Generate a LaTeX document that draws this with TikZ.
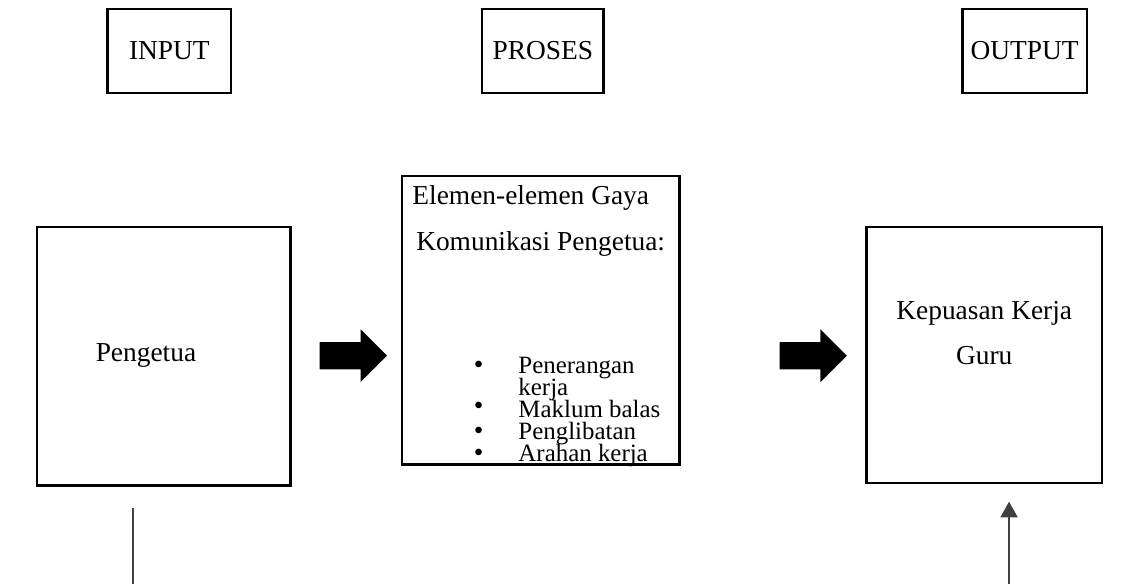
\documentclass[tikz,border=0pt]{standalone}
\usepackage{fontspec}
\setmainfont{Liberation Serif}
\usetikzlibrary{arrows.meta,positioning,shapes.arrows}
\tikzset{
  head/.style={rectangle, draw=black, line width=1pt, minimum width=#1, minimum height=1.19cm,
               inner sep=0pt, font=\fontsize{11}{13}\selectfont},
  head/.default={1.74cm},
  frame/.style={rectangle, draw=black, line width=1pt, inner sep=0pt},
  txt/.style={inner sep=0pt, font=\fontsize{11}{13}\selectfont},
  item/.style={inner sep=0pt, font=\fontsize{10}{12}\selectfont, anchor=base west},
  dot/.style={item, label={[inner sep=0pt, label distance=0.48cm, font=\fontsize{11}{11}\selectfont]left:\textbullet}},
  blk/.style={single arrow, fill=black, draw=none, minimum height=0.95cm, inner xsep=0pt,
              inner ysep=0.185cm, single arrow head extend=0.18cm},
  wire/.style={line width=0.6pt, black!75},
}
\begin{document}
\begin{tikzpicture}[x=1cm, y=1cm]
\useasboundingbox (0,0) rectangle (16.06,8.24);
% top labels
\node[head] (input) at (2.39,7.52) {INPUT};
\node[head=1.71cm] (proses) at (7.66,7.52) {PROSES};
\node[head=1.76cm] (output) at (14.46,7.52) {OUTPUT};
% main boxes
\node[frame, minimum width=3.58cm, minimum height=3.65cm] (pengetua) at (2.31,3.21) {};
\node[frame, minimum width=3.92cm, minimum height=4.07cm] (gaya) at (7.63,3.72) {};
\node[frame, minimum width=3.33cm, minimum height=3.61cm] (kepuasan) at (13.89,3.23) {};
\node[txt] (pengetuaT) at (2.06,3.23) {Pengetua};
\node[txt, anchor=base] (gayaA) at (7.49,5.35) {Elemen-elemen Gaya};
\node[txt, anchor=base] (gayaB) at (7.63,4.70) {Komunikasi Pengetua:};
\node[dot] (i1) at (7.31,2.975) {Penerangan};
\node[item] (i1b) at (7.31,2.66) {kerja};
\node[dot] (i2) at (7.31,2.35) {Maklum balas};
\node[dot] (i3) at (7.31,2.04) {Penglibatan};
\node[dot] (i4) at (7.31,1.73) {Arahan kerja};
\node[txt] (kepA) at (13.89,3.82) {Kepuasan Kerja};
\node[txt] (kepB) at (13.89,3.22) {Guru};
% block arrows
\node[blk] (arrA) at (4.89,3.22) {};
\node[blk] (arrB) at (11.38,3.22) {};
% lines at the foot
\coordinate (penFoot) at (1.88,1.07);
\coordinate (edgeL) at (1.88,0);
\draw[wire] (penFoot) -- (edgeL);
\coordinate (edgeR) at (14.24,0);
\coordinate (kepFoot) at (14.24,1.16);
\draw[wire, -{Triangle[length=2.2mm, width=2.4mm]}] (edgeR) -- (kepFoot);
\end{tikzpicture}
\end{document}
